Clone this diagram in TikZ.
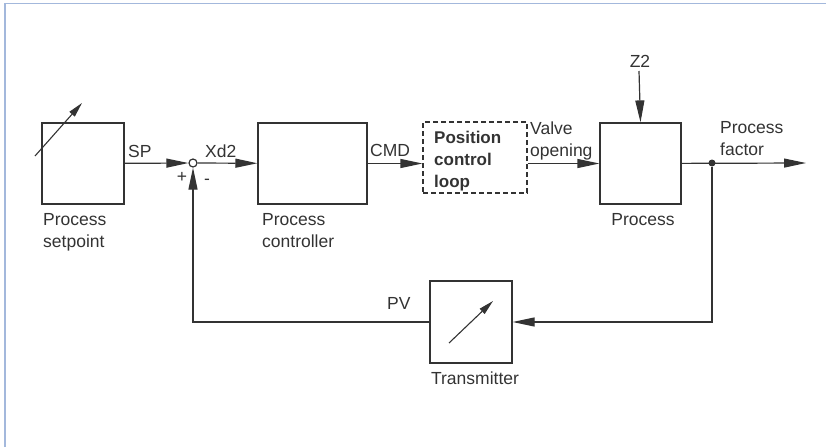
\documentclass[tikz,border=0pt]{standalone}
\usepackage{fontspec}
\setmainfont{Liberation Sans}
\usetikzlibrary{arrows.meta}
\definecolor{framecol}{HTML}{A3B8DC}
\definecolor{linecol}{HTML}{333333}
\tikzset{
    blk/.style = {draw=linecol, line width=1.2pt, rectangle, inner sep=0pt},
    lbl/.style = {inner sep=0pt, text=linecol, font=\fontsize{17.5}{22}\selectfont},
    arr/.style = {draw=linecol, line width=1.2pt, -{Triangle[length=22pt,width=9pt]}},
    ln/.style  = {draw=linecol, line width=1.2pt}
}
\begin{document}
\begin{tikzpicture}[x=1pt, y=-1pt]
        \useasboundingbox (0,0) rectangle (826,447);
        \draw[framecol, line width=1.5pt] (5,447) -- (5,3.5) -- (826,3.5);
        % blocks
        \node [blk, minimum width=82pt,  minimum height=81pt] (setp)  at (83,163.5)  {};
        \node [blk, minimum width=109pt, minimum height=81pt] (ctrl)  at (312.5,163.5) {};
        \node [blk, dash pattern=on 5pt off 3pt, minimum width=104pt, minimum height=71pt] (pos) at (475,157.5) {};
        \node [blk, minimum width=81pt,  minimum height=81pt] (proc)  at (640.5,163.5) {};
        \node [blk, minimum width=82pt,  minimum height=82pt] (trans) at (471,322)   {};
        \node [draw=linecol, line width=1.2pt, circle, fill=white, minimum size=8pt, inner sep=0pt] (sum) at (193,163) {};
        \node [circle, fill=linecol, minimum size=7pt, inner sep=0pt] (dot) at (712,163) {};
        \coordinate (out) at (806,163);
        \coordinate (z2) at (639,71);
        % adjustable arrows
        \draw [line width=1.1pt, linecol, -{Triangle[length=15pt,width=7pt]}] (35,156) -- (82,103);
        \draw [line width=1.1pt, linecol, -{Triangle[length=15pt,width=7pt]}] (449,343) -- (493,301);
        % labels
        \node [lbl, anchor=north west, align=left] (setpl)  at (43,213.5)  {Process\\setpoint};
        \node [lbl, anchor=north west, align=left] (ctrll)  at (262,213)   {Process\\controller};
        \node [lbl, anchor=north west, align=left, font=\fontsize{17}{22}\selectfont\bfseries] (posl) at (434,130.5) {Position\\control\\loop};
        \node [lbl, anchor=north west, align=left] (valve)  at (530,122)   {Valve\\opening};
        \node [lbl, anchor=north west, align=left] (pfac)   at (720,121)   {Process\\factor};
        \node [lbl, anchor=base] (procl)  at (643,225) {Process};
        \node [lbl, anchor=base] (transl) at (475,384) {Transmitter};
        \node [lbl, anchor=base west] (spl)  at (128,157) {SP};
        \node [lbl, anchor=base west] (xdl)  at (205,157) {Xd2};
        \node [lbl, anchor=base west] (cmdl) at (370,156) {CMD};
        \node [lbl, anchor=base west] (pvl)  at (387,309) {PV};
        \node [lbl, anchor=base] (z2l) at (640,67) {Z2};
        \node [lbl] (plus)  at (182,177) {+};
        \node [lbl] (minus) at (207,182) {-};
        % connectors
        \path [arr] (setp)      -- (sum);
        \path [arr] (sum)       -- (ctrl);
        \path [arr] (ctrl.east) -- (ctrl.east -| pos.west);
        \path [arr] (pos.east |- proc.west) -- (proc.west);
        \path [arr] (z2)        -- (proc.north);
        \path [arr] (proc)      -- (out);
        \path [arr] (dot)       |- (trans.east);
        \path [arr] (trans.west) -| (sum.south);
    \end{tikzpicture}
\end{document}
